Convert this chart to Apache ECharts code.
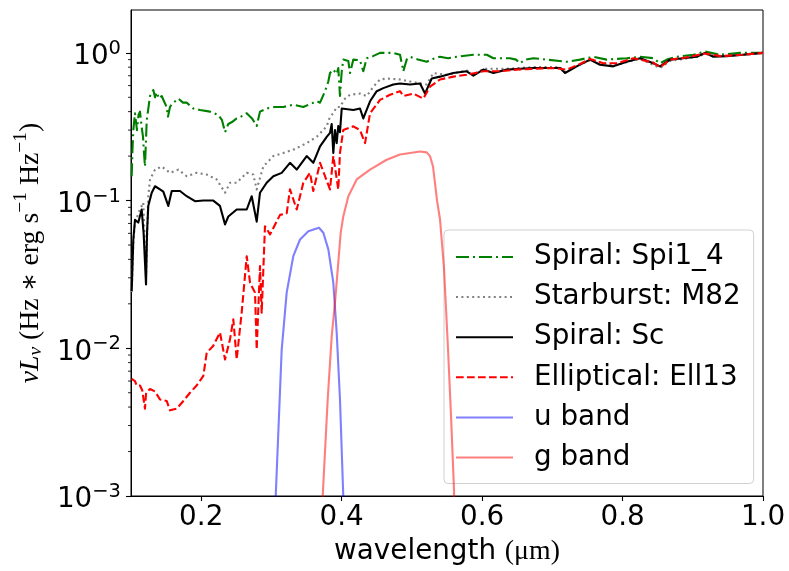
<!DOCTYPE html>
<html><head><meta charset="utf-8">
<script src="https://cdn.jsdelivr.net/npm/echarts@6/dist/echarts.min.js"></script>
<style>html,body{margin:0;padding:0;background:#fff}#c{width:789px;height:571px}</style>
</head><body><div id="c"></div>
<script>
// ---------- data (wavelength in micron, normalized nu*L_nu) ----------
const spi14 = [[0.101,0.146],[0.1021,0.22],[0.1033,0.30],[0.1057,0.39],[0.1085,0.30],[0.1107,0.38],[0.1128,0.40],[0.115,0.32],[0.1171,0.27],[0.1185,0.21],[0.1199,0.17],[0.1214,0.26],[0.1224,0.35],[0.1271,0.51],[0.1318,0.56],[0.1342,0.50],[0.1366,0.54],[0.1399,0.49],[0.1437,0.51],[0.147,0.47],[0.1508,0.43],[0.1527,0.37],[0.1555,0.43],[0.158,0.45],[0.1674,0.49],[0.174,0.46],[0.1793,0.46],[0.1887,0.42],[0.1983,0.41],[0.2125,0.40],[0.2243,0.38],[0.2296,0.35],[0.2339,0.29],[0.2386,0.33],[0.2438,0.34],[0.2505,0.36],[0.2566,0.37],[0.2648,0.39],[0.2723,0.36],[0.279,0.32],[0.2837,0.40],[0.2932,0.42],[0.3051,0.43],[0.3169,0.43],[0.3311,0.445],[0.3454,0.43],[0.3645,0.47],[0.3692,0.46],[0.3763,0.55],[0.381,0.64],[0.3834,0.73],[0.3881,0.77],[0.3929,0.72],[0.3952,0.79],[0.3976,0.51],[0.4001,0.75],[0.4023,0.90],[0.4095,0.88],[0.4119,0.73],[0.4166,0.90],[0.4261,0.89],[0.4308,0.75],[0.4357,0.92],[0.4446,0.95],[0.4546,1.0],[0.4735,1.0],[0.4831,0.97],[0.4878,0.75],[0.4926,0.90],[0.4973,0.94],[0.5087,0.90],[0.5211,0.87],[0.5301,0.91],[0.54,0.94],[0.5514,0.92],[0.5638,0.94],[0.5875,0.97],[0.6066,0.97],[0.6161,0.92],[0.6397,0.92],[0.6483,0.90],[0.654,0.85],[0.6611,0.90],[0.673,0.92],[0.692,0.90],[0.7205,0.87],[0.7394,0.90],[0.7584,0.94],[0.7774,0.90],[0.806,0.92],[0.8249,0.94],[0.8438,0.92],[0.8534,0.85],[0.863,0.90],[0.877,0.94],[0.9008,0.97],[0.9174,1.02],[0.9388,0.97],[0.9673,1.0],[1.0,1.0]];
const m82 = [[0.101,0.024],[0.1033,0.052],[0.1057,0.071],[0.1128,0.087],[0.1175,0.097],[0.1214,0.031],[0.1246,0.107],[0.1271,0.139],[0.1342,0.162],[0.1437,0.17],[0.1555,0.154],[0.1674,0.162],[0.1793,0.146],[0.1936,0.154],[0.2078,0.15],[0.222,0.139],[0.2339,0.113],[0.241,0.132],[0.2505,0.132],[0.2648,0.154],[0.2742,0.15],[0.279,0.119],[0.2884,0.17],[0.3027,0.2],[0.3169,0.21],[0.3311,0.221],[0.3502,0.245],[0.3645,0.27],[0.3787,0.318],[0.3834,0.37],[0.3881,0.39],[0.3929,0.43],[0.3976,0.43],[0.4047,0.49],[0.4118,0.52],[0.4261,0.53],[0.4357,0.51],[0.4451,0.59],[0.4546,0.66],[0.4641,0.67],[0.4831,0.66],[0.4973,0.64],[0.5211,0.61],[0.5305,0.73],[0.5496,0.71],[0.578,0.76],[0.5875,0.71],[0.6017,0.78],[0.635,0.78],[0.673,0.80],[0.711,0.80],[0.7181,0.74],[0.7347,0.82],[0.7537,0.89],[0.7868,0.82],[0.8249,0.91],[0.8534,0.79],[0.8676,0.88],[0.9056,0.94],[0.9174,0.98],[0.9483,0.95],[1.0,1.0]];
const sc = [[0.101,0.0244],[0.1033,0.0545],[0.1057,0.074],[0.1104,0.071],[0.1152,0.087],[0.118,0.06],[0.1214,0.027],[0.1228,0.06],[0.1246,0.092],[0.1295,0.113],[0.1342,0.125],[0.1413,0.119],[0.146,0.115],[0.1531,0.092],[0.158,0.116],[0.1698,0.116],[0.1793,0.107],[0.1911,0.099],[0.203,0.10],[0.2172,0.10],[0.2267,0.092],[0.2339,0.069],[0.2386,0.078],[0.2505,0.087],[0.2648,0.087],[0.2719,0.107],[0.279,0.072],[0.2837,0.113],[0.2932,0.132],[0.3027,0.146],[0.3146,0.154],[0.3264,0.18],[0.336,0.162],[0.3502,0.2],[0.3596,0.18],[0.3692,0.233],[0.3787,0.27],[0.3834,0.287],[0.3858,0.33],[0.3881,0.21],[0.3905,0.30],[0.3929,0.245],[0.3952,0.32],[0.3976,0.29],[0.4001,0.42],[0.4023,0.42],[0.4166,0.41],[0.4261,0.42],[0.4308,0.36],[0.4404,0.47],[0.4499,0.55],[0.4593,0.577],[0.4735,0.61],[0.4831,0.62],[0.4973,0.61],[0.5116,0.62],[0.5187,0.53],[0.5282,0.67],[0.54,0.69],[0.559,0.73],[0.578,0.75],[0.5875,0.70],[0.6017,0.77],[0.616,0.73],[0.635,0.77],[0.654,0.78],[0.673,0.79],[0.692,0.79],[0.711,0.79],[0.7181,0.73],[0.7347,0.81],[0.7537,0.90],[0.7679,0.83],[0.7868,0.81],[0.8059,0.87],[0.8249,0.92],[0.8438,0.85],[0.8534,0.81],[0.8676,0.90],[0.8865,0.92],[0.9056,0.94],[0.9174,1.0],[0.9293,0.94],[0.9483,0.95],[0.972,0.97],[1.0,1.0]];
const ell13 = [[0.101,0.0062],[0.1057,0.0060],[0.108,0.0056],[0.1128,0.0056],[0.116,0.0052],[0.1199,0.0039],[0.1215,0.0050],[0.1271,0.0053],[0.1342,0.0051],[0.1413,0.0045],[0.1508,0.0044],[0.1555,0.0038],[0.1651,0.0039],[0.1745,0.0044],[0.184,0.0050],[0.1935,0.0056],[0.203,0.0065],[0.2078,0.0093],[0.2172,0.0104],[0.2267,0.0128],[0.2339,0.0084],[0.241,0.0115],[0.2457,0.0157],[0.2505,0.0084],[0.2576,0.0174],[0.2648,0.042],[0.2695,0.0278],[0.2766,0.0238],[0.279,0.0098],[0.2837,0.036],[0.2861,0.0174],[0.2908,0.067],[0.298,0.059],[0.3122,0.080],[0.3217,0.082],[0.3264,0.119],[0.336,0.087],[0.3454,0.132],[0.3549,0.154],[0.3596,0.116],[0.3692,0.18],[0.3834,0.119],[0.3881,0.20],[0.3952,0.119],[0.3976,0.21],[0.4023,0.30],[0.4166,0.318],[0.4261,0.30],[0.4333,0.245],[0.4404,0.39],[0.4546,0.48],[0.4688,0.52],[0.4831,0.55],[0.4878,0.51],[0.502,0.53],[0.5163,0.49],[0.5258,0.59],[0.54,0.66],[0.559,0.69],[0.578,0.71],[0.6017,0.75],[0.6255,0.75],[0.6493,0.77],[0.673,0.78],[0.7014,0.79],[0.7205,0.77],[0.7394,0.84],[0.7537,0.91],[0.7726,0.85],[0.7917,0.85],[0.8153,0.92],[0.8438,0.86],[0.8534,0.80],[0.868,0.90],[0.89,0.93],[0.9174,0.99],[0.94,0.95],[0.97,0.97],[1.0,1.0]];
const uBand = [[0.3045,0.0003],[0.3061,0.001],[0.3098,0.0027],[0.3146,0.0098],[0.3217,0.0238],[0.3311,0.042],[0.3407,0.0545],[0.3525,0.062],[0.3677,0.0654],[0.3739,0.0605],[0.381,0.0467],[0.3881,0.0278],[0.3929,0.0128],[0.3976,0.0045],[0.4023,0.001],[0.404,0.0003]];
const gBand = [[0.3715,0.0003],[0.373,0.001],[0.3801,0.0045],[0.3858,0.012],[0.3909,0.0214],[0.3986,0.0605],[0.4023,0.078],[0.4095,0.107],[0.4214,0.139],[0.4404,0.162],[0.4641,0.189],[0.4831,0.205],[0.4973,0.21],[0.5116,0.215],[0.5211,0.212],[0.5258,0.20],[0.5301,0.17],[0.533,0.13],[0.5358,0.10],[0.54,0.075],[0.5457,0.035],[0.5514,0.010],[0.5557,0.0035],[0.56,0.0011],[0.5615,0.0003]];
const seriesNames = ['Spiral: Spi1_4','Starburst: M82','Spiral: Sc','Elliptical: Ell13','u band','g band'];
const xTicks = [0.2,0.4,0.6,0.8,1.0];
const xRange = [0.1,1.0];
const yRange = [0.001,1.95];
const yMinorTicks = [0.002,0.003,0.004,0.005,0.006,0.007,0.008,0.009,0.02,0.03,0.04,0.05,0.06,0.07,0.08,0.09,0.2,0.3,0.4,0.5,0.6,0.7,0.8,0.9];

// ---------- chart ----------
const FS = 27.8;
const SANS = 'DejaVu Sans';
const SERIF = 'Liberation Serif, DejaVu Serif, serif';
const chart = echarts.init(document.getElementById('c'), null, {renderer:'canvas'});
function line(name, data, color, type, width, z){
  return {name, type:'line', data, symbol:'none', showSymbol:false, sampling:null, smooth:false, clip:true,
    lineStyle:{color, width, type, cap:'butt', join:'round'}, itemStyle:{color}, z, silent:true, animation:false};
}
const option = {
  animation:false,
  grid:{left:131, right:26, top:10, bottom:75, show:true, borderColor:'#000', borderWidth:1, backgroundColor:'transparent'},
  xAxis:{type:'value', min:xRange[0], max:xRange[1],
    axisLine:{show:true, lineStyle:{color:'#000', width:1}},
    axisTick:{show:true, length:5, lineStyle:{color:'#000', width:1.1}, customValues:xTicks},
    axisLabel:{customValues:xTicks, margin:8, color:'#000', fontFamily:SANS, fontSize:FS, formatter:v=>v.toFixed(1)},
    splitLine:{show:false},
    name:'{a|wavelength }{b|(μm)}', nameLocation:'middle', nameGap:42,
    nameTextStyle:{rich:{a:{fontFamily:SANS, fontSize:FS, color:'#000'}, b:{fontFamily:SERIF, fontSize:FS, color:'#000'}}}
  },
  yAxis:{type:'log', logBase:10, min:yRange[0], max:yRange[1],
    axisLine:{show:true, lineStyle:{color:'#000', width:1}},
    axisTick:{show:true, length:5, lineStyle:{color:'#000', width:1.1}},
    axisLabel:{showMaxLabel:false, margin:10, color:'#000',
      formatter:v=>{const e=Math.round(Math.log10(v)); return '{b|10}{e|'+(e<0?'−'+(-e):e)+'}';},
      rich:{b:{fontFamily:SANS, fontSize:FS, lineHeight:40, padding:[8,0,0,0], verticalAlign:'middle', color:'#000'},
            e:{fontFamily:SANS, fontSize:19.5, lineHeight:16, padding:[6,0,0,0], verticalAlign:'top', color:'#000'}}},
    splitLine:{show:false}, minorTick:{show:false},
    name:'{i|νL}{sb|ν}{r| (Hz ∗ erg s}{sp|−1}{r| Hz}{sp|−1}{r|)}', nameLocation:'middle', nameGap:80, nameRotate:90,
    nameTextStyle:{rich:{
      i:{fontFamily:SERIF, fontStyle:'italic', fontSize:FS, lineHeight:40, color:'#000'},
      sb:{fontFamily:SERIF, fontStyle:'italic', fontSize:19.5, lineHeight:19, padding:[10,0,0,0], verticalAlign:'middle', color:'#000'},
      r:{fontFamily:SERIF, fontSize:FS, lineHeight:40, color:'#000'},
      sp:{fontFamily:SERIF, fontSize:19.5, lineHeight:18, verticalAlign:'top', color:'#000'}}}
  },
  legend:{data:seriesNames, orient:'vertical', left:444, top:230, selectedMode:false,
    padding:[12,13,11,11], itemWidth:57, itemHeight:14, itemGap:10.1,
    itemStyle:{opacity:0, borderWidth:0},
    backgroundColor:'rgba(255,255,255,0.8)', borderColor:'#d0d0d0', borderWidth:1, borderRadius:4,
    textStyle:{fontFamily:SANS, fontSize:FS, color:'#000', lineHeight:30, padding:[0,0,0,16]}},
  series:[
    line(seriesNames[0], spi14, '#008000', [13,4,2,4], 2.1, 2),
    line(seriesNames[1], m82, '#808080', [2,3.4], 2.1, 3),
    line(seriesNames[2], sc, '#000000', 'solid', 2.1, 4),
    line(seriesNames[3], ell13, '#ff0000', [7.7,3.3], 2.1, 5),
    line(seriesNames[4], uBand, 'rgba(0,0,255,0.5)', 'solid', 2.1, 6),
    line(seriesNames[5], gBand, 'rgba(255,0,0,0.5)', 'solid', 2.1, 7),
    {type:'custom', name:'minorTicks', silent:true, clip:false, z:10,
      data: yMinorTicks.map(v=>[xRange[0], v]),
      renderItem:(params, api)=>{
        const p = api.coord([api.value(0), api.value(1)]);
        return {type:'line', shape:{x1:p[0]-3, y1:p[1], x2:p[0], y2:p[1]}, style:{stroke:'#000', lineWidth:0.85}};
      }}
  ]
};
chart.setOption(option);
</script></body></html>
